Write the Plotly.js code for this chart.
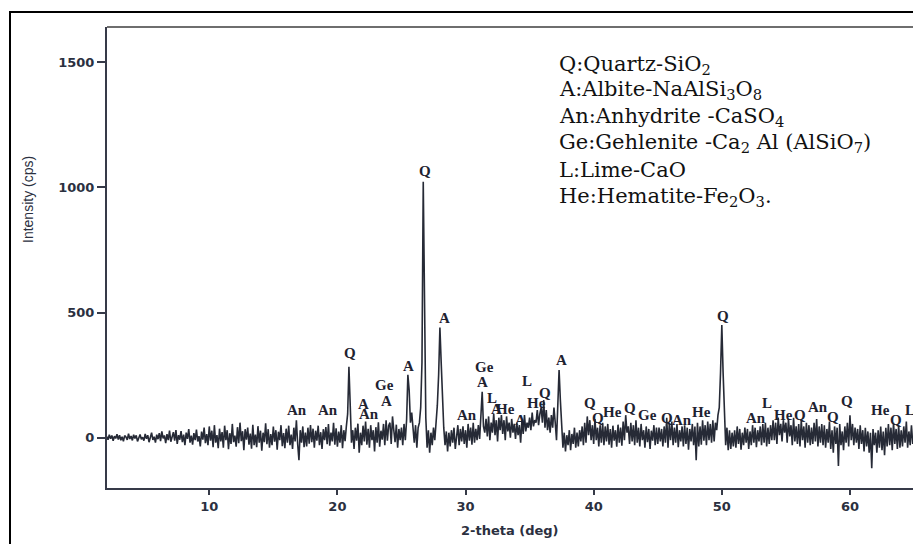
<!DOCTYPE html>
<html>
<head>
<meta charset="utf-8">
<script src="https://cdn.plot.ly/plotly-3.0.1.min.js"></script>
<style>html,body{margin:0;padding:0;background:#fff;}#chart{width:913px;height:544px;}</style>
</head>
<body>
<div id="chart"></div>
<script>
// Scan grid (2-theta, deg)
const twoThetaStart = 2.0;
const twoThetaStep = 0.1;
// Intensity (cps), one row per degree starting at 2.0
const intensity = [
5,-8,12,-4,9,-12,6,-3,14,-7,
10,-10,4,-14,8,3,-9,16,-5,7,
-11,12,-3,9,-15,5,13,-6,2,-12,
15,-4,10,-18,7,20,-9,4,-20,12,
-6,18,-14,25,-3,9,-22,14,-10,28,
-16,6,22,-12,30,-25,10,-8,26,-18,
12,-30,20,-5,34,-20,8,-28,18,-10,
32,-15,6,-35,24,-8,40,-22,14,-30,
45,-12,28,-38,50,-20,10,-42,36,-15,
22,-40,48,-10,30,-46,18,-25,55,-18,
8,-36,42,-22,60,-14,26,-50,34,-8,
40,-28,16,-44,52,-30,12,-38,46,-20,
28,-52,20,-18,58,-26,34,-40,14,-30,
44,-16,30,-48,24,-10,50,-34,18,-42,
36,-20,48,-30,12,-45,40,-15,70,-25,
-90,30,-20,45,-38,20,-35,40,-24,50,
-18,36,-40,28,-12,48,-30,22,-45,34,
-10,42,-26,55,-32,20,-15,60,-28,38,
-36,24,-20,50,-42,30,-14,46,95,283,
80,-20,30,-45,40,-12,56,-60,20,-30,
48,-15,65,-28,36,-40,50,-10,30,-55,
42,-20,62,-36,28,-8,55,-30,70,-12,
48,60,-25,85,30,-18,52,-40,35,-10,
40,-30,55,-10,70,251,190,60,100,30,
-20,50,-40,40,60,120,300,1023,540,80,
-40,30,-60,20,-30,40,-10,60,130,250,
440,300,120,40,-30,25,-55,20,-35,30,
-20,40,-45,15,50,-30,35,-15,45,-25,
30,-40,55,-12,40,-28,60,-20,35,-10,
50,-5,70,183,45,20,75,5,85,-10,
60,20,95,10,70,-15,80,30,90,15,
70,-10,85,25,60,0,75,20,55,-5,
60,10,50,-20,70,15,90,25,60,40,
80,30,100,45,70,60,110,50,95,120,
60,150,40,110,30,80,20,90,40,120,
60,-10,130,270,150,40,-40,20,-55,10,
-30,30,-50,15,-25,40,-40,20,-35,30,
-15,45,-30,60,-20,85,10,70,-10,50,
-25,75,-10,40,-35,50,-20,60,-30,45,
-15,55,-28,35,-40,48,-12,30,-36,52,
-20,40,-32,65,-10,90,20,45,-25,60,
-15,50,-30,70,-20,40,-35,55,-10,30,
-40,45,-18,35,-45,28,-12,50,-30,40,
-25,40,-15,35,-35,45,-20,80,-40,55,
-10,65,-30,40,-20,55,-38,30,-15,45,
-35,50,-25,40,-48,35,-15,55,-30,45,
-90,60,-35,45,-28,70,-12,50,-30,65,
-10,55,-20,70,-15,60,30,90,120,260,
450,260,60,-30,40,-50,30,-45,20,-35,
30,-40,45,-25,35,-48,20,-30,40,-20,
35,-45,25,-30,50,-20,40,-38,30,-15,
45,-30,55,-20,60,-35,40,-25,50,-10,
70,-10,60,-25,80,10,55,-15,70,20,
60,-20,75,5,50,-30,80,-15,45,-25,
55,-35,70,-10,45,-40,60,-20,50,-30,
40,-25,60,-15,75,-35,45,-20,55,-30,
50,-40,35,-20,65,-45,30,-60,45,-25,
40,-113,55,-30,25,-50,45,-20,60,-35,
90,-10,55,-30,40,-20,35,-45,50,-25,
30,-55,40,-35,25,-60,20,-122,35,-30,
20,-60,30,-40,45,-50,25,-70,40,-35,
55,-30,40,-50,60,-25,35,-45,50,-40,
30,-35,45,-20,65,-40,25,-30,50,-25
];
// Phase labels above peaks
const peakLabels = ["An","An","Q","A","An","Ge","A","A","Q","A","An","Ge","A","L","A","He","A","L","He","Q","A",
  "Q","Q","He","Q","Ge","Q","An","He","Q","An","L","He","Q","An","Q","Q","He","Q","L"];
const peakLabelX = [16.85,19.3,21.0,22.0,22.5,23.7,23.8,25.55,26.8,28.35,30.15,31.5,31.3,32.05,32.45,33.1,34.3,34.8,35.5,36.2,37.5,
  39.7,40.3,41.5,42.8,44.2,45.7,46.9,48.4,50.1,52.7,53.5,54.8,56.1,57.5,58.7,59.8,62.4,63.6,64.7];
const peakLabelY = [111,111,339,135,95,211,147,287,1067,479,91,283,223,159,115,115,71,227,139,179,311,
  139,79,103,119,91,79,71,103,487,79,139,91,91,123,83,147,111,71,111];
const legendLines = ["Q:Quartz-SiO<sub>2</sub>","A:Albite-NaAlSi<sub>3</sub>O<sub>8</sub>","An:Anhydrite -CaSO<sub>4</sub>",
  "Ge:Gehlenite -Ca<sub>2</sub> Al (AlSiO<sub>7</sub>)","L:Lime-CaO","He:Hematite-Fe<sub>2</sub>O<sub>3</sub>."];
const yTicks = [0,500,1000,1500];
const xTicks = [10,20,30,40,50,60];

const twoTheta = intensity.map((_, i) => +(twoThetaStart + i * twoThetaStep).toFixed(2));

const W = 913, H = 544, ML = 107, MR = 0, MT = 27, MB = 56;
const PW = W - ML - MR, PH = H - MT - MB;
const px = x => (x - ML) / PW;
const py = y => (H - MB - y) / PH;

const axisColor = '#363a48';
const annotations = [];
peakLabels.forEach((t, i) => annotations.push({
  x: peakLabelX[i], y: peakLabelY[i], xref: 'x', yref: 'y', text: '<b>' + t + '</b>', showarrow: false,
  xanchor: 'center', yanchor: 'middle',
  font: {family: 'Liberation Serif, DejaVu Serif, serif', size: 15, color: '#1e2230'}
}));
const legendY = [65, 90, 117, 143, 170, 197];
legendLines.forEach((t, i) => annotations.push({
  x: px(557), y: py(legendY[i]), xref: 'paper', yref: 'paper', text: t, showarrow: false,
  xanchor: 'left', yanchor: 'middle',
  font: {family: 'DejaVu Serif, Liberation Serif, serif', size: 21, color: '#111'}
}));
annotations.push({
  x: px(28), y: py(200), xref: 'paper', yref: 'paper', text: 'Intensity (cps)', textangle: -90,
  showarrow: false, xanchor: 'center', yanchor: 'middle',
  font: {family: 'Liberation Sans, Arial, sans-serif', size: 14, color: '#2b3040'}
});
annotations.push({
  x: px(510), y: py(530), xref: 'paper', yref: 'paper', text: '<b>2-theta (deg)</b>',
  showarrow: false, xanchor: 'center', yanchor: 'middle',
  font: {family: 'DejaVu Sans, sans-serif', size: 13, color: '#2b3040'}
});

const trace = {
  x: twoTheta, y: intensity, type: 'scatter', mode: 'lines',
  line: {color: '#262a36', width: 1.6}, hoverinfo: 'skip', showlegend: false
};

const layout = {
  width: W, height: H,
  margin: {l: ML, r: MR, t: MT, b: MB, pad: 0},
  paper_bgcolor: '#fff', plot_bgcolor: '#fff',
  showlegend: false,
  xaxis: {
    range: [2.02, 64.92], tickvals: xTicks, ticktext: xTicks.map(String),
    showgrid: false, zeroline: false, showline: true, linecolor: axisColor, linewidth: 2,
    ticks: 'outside', ticklen: 5, tickwidth: 2, tickcolor: axisColor,
    tickfont: {family: 'DejaVu Sans, sans-serif', size: 13, color: '#2b3040', weight: 'bold'}
  },
  yaxis: {
    range: [-201, 1641], tickvals: yTicks, ticktext: yTicks.map(String),
    showgrid: false, zeroline: false, showline: true, linecolor: axisColor, linewidth: 2,
    ticks: 'outside', ticklen: 8, tickwidth: 2, tickcolor: axisColor,
    tickfont: {family: 'DejaVu Sans, sans-serif', size: 13, color: '#2b3040', weight: 'bold'}
  },
  shapes: [
    {type: 'line', xref: 'paper', yref: 'paper', x0: 0, x1: 1.01, y0: 1, y1: 1,
     line: {color: '#6e6e6e', width: 2}},
    {type: 'rect', xref: 'paper', yref: 'paper', x0: px(10), x1: 1.2, y0: -0.3, y1: py(12),
     line: {color: '#000', width: 2}, fillcolor: 'rgba(0,0,0,0)'}
  ],
  annotations: annotations
};

Plotly.newPlot('chart', [trace], layout, {displayModeBar: false, staticPlot: true});
</script>
</body>
</html>
